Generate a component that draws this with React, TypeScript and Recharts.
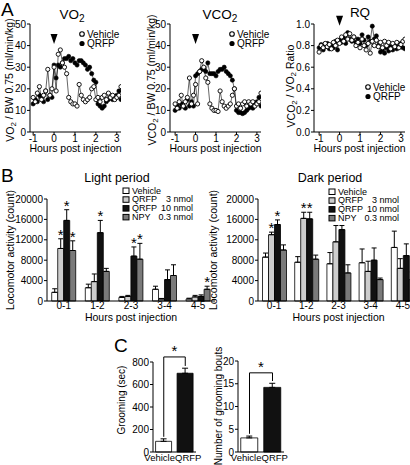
import React from "react";
import {
  LineChart,
  Line,
  BarChart,
  Bar,
  Cell,
  XAxis,
  YAxis,
  ErrorBar,
  LabelList,
  Label,
  ReferenceDot,
  ReferenceLine,
} from "recharts";

// ---- A: indirect calorimetry (hours post injection) ----
const hours = [
  -1.0, -0.9, -0.8, -0.7, -0.6, -0.5, -0.4, -0.3, -0.2, -0.1, 0.0, 0.1, 0.2, 0.3,
  0.4, 0.5, 0.6, 0.7, 0.8, 0.9, 1.0, 1.1, 1.2, 1.3, 1.4, 1.5, 1.6, 1.7, 1.8, 1.9,
  2.0, 2.1, 2.2, 2.3, 2.4, 2.5, 2.6, 2.7, 2.8, 2.9, 3.0, 3.1, 3.2,
];
const vo2Vehicle = [
  16, 14, 18, 21, 15, 17, 19, 29, 17, 20, 30, 19, 36, 38, 32, 30, 27, 16, 14, 13,
  13, 12, 22, 17, 15, 14, 15, 16, 20, 21, 15, 16, 14, 16, 17, 15, 18, 16, 17, 15,
  16, 17, 21,
];
const vo2Qrfp = [
  13, 15, 14, 17, 16, 14, 19, 15, 17, 16, 31, 25, 31, 30, 32, 34, 34, 35, 33, 34,
  32, 31, 33, 33, 32, 31, 29, 30, 27, 24, 23, 13, 12, 11, 12, 14, 15, 16, 15, 16,
  17, 19, 15,
];
const vco2Vehicle = [
  13, 11, 14, 17, 12, 14, 16, 25, 13, 17, 22, 13, 28, 33, 30, 25, 23, 13, 11, 10,
  10, 9.5, 19, 14, 12, 11, 12, 13, 17, 20, 12, 13, 11, 13, 14, 12, 14, 13, 14, 12,
  13, 14, 18,
];
const vco2Qrfp = [
  10, 12, 11, 13, 12, 11, 15, 12, 14, 12, 26, 27, 28, 29, 29, 28, 32, 27, 27, 27,
  26, 28, 29, 29, 30, 28, 27, 26, 24, 20, 10, 9, 9, 8.5, 9, 10, 11, 12, 11, 13,
  14, 16, 12,
];
const rqVehicle = [
  0.74, 0.8, 0.78, 0.82, 0.79, 0.81, 0.77, 0.83, 0.8, 0.85, 0.82, 0.88, 0.84, 0.9,
  0.86, 0.91, 0.85, 0.88, 0.8, 0.83, 0.78, 0.86, 0.8, 0.76, 0.82, 0.73, 0.84, 0.8,
  0.85, 0.79, 0.83, 0.78, 0.84, 0.8, 0.83, 0.77, 0.82, 0.79, 0.83, 0.78, 0.81,
  0.84, 0.86,
];
const rqQrfp = [
  0.78, 0.81, 0.76, 0.79, 0.82, 0.77, 0.8, 0.78, 0.84, 0.76, 0.85, 0.83, 0.87,
  0.82, 0.92, 0.86, 0.84, 0.88, 0.83, 0.86, 0.82, 0.9, 0.85, 0.8, 0.88, 0.84, 0.98,
  0.86, 0.89, 0.8, 0.74, 0.76, 0.73, 0.78, 0.75, 0.79, 0.76, 0.8, 0.77, 0.79,
  0.82, 0.78, 0.77,
];
const hourTicks = [-1, 0, 1, 2, 3];

// ---- B: locomotor activity ----
const periods = ["0-1", "1-2", "2-3", "3-4", "4-5"];
const activityTicks = [0, 4000, 8000, 12000, 16000, 20000];

const lightVehicle = [1700, 2600, 700, 2300, 400];
const lightVehicleErr = [700, 700, 200, 600, 150];
const lightQ3 = [10300, 3800, 900, 400, 800];
const lightQ3Err = [1900, 1500, 200, 100, 300];
const lightQ10 = [15800, 13400, 8800, 4200, 900];
const lightQ10Err = [2100, 2400, 1800, 1900, 300];
const lightNpy = [9900, 5800, 8200, 5000, 2300];
const lightNpyErr = [1900, 600, 3100, 2100, 600];
const lightSigQ3 = [true, false, false, false, false];
const lightSigQ10 = [true, true, true, false, false];
const lightSigNpy = [true, false, true, false, true];

const darkVehicle = [8600, 7600, 7300, 7500, 10500];
const darkVehicleErr = [800, 1100, 2200, 2700, 3200];
const darkQ3 = [13000, 16200, 11600, 5800, 6400];
const darkQ3Err = [500, 1200, 3200, 2000, 1900];
const darkQ10 = [15000, 16100, 14000, 8000, 8900];
const darkQ10Err = [900, 1300, 800, 2400, 2300];
const darkNpy = [10000, 8200, 5500, 4200, 4200];
const darkNpyErr = [1000, 800, 1600, 300, 1500];
const darkSigQ3 = [true, true, false, false, false];
const darkSigQ10 = [true, true, false, false, false];
const darkSigNpy = [false, false, false, false, false];

// ---- C: grooming ----
const groups = ["Vehicle", "QRFP"];
const groomSec = [95, 700];
const groomSecErr = [22, 45];
const groomBouts = [3.1, 14.2];
const groomBoutsErr = [0.4, 0.9];

const FONT = "'Liberation Sans', Arial, Helvetica, sans-serif";
const tickStyle = { fill: "#000", fontSize: 10, fontFamily: FONT };
const axisLine = { stroke: "#000", strokeWidth: 1 };
const barFills = ["#ffffff", "#111111"];

function seriesRows(a: number[], b: number[]) {
  return hours.map((t, i) => ({ t, veh: a[i], qrfp: b[i] }));
}

const Triangle = (p: any) => (
  <path
    d={`M${p.cx - 3.5},${p.cy - 5} L${p.cx + 3.5},${p.cy - 5} L${p.cx},${p.cy + 5} Z`}
    fill="#000"
  />
);

type TSProps = {
  rows: { t: number; veh: number; qrfp: number }[];
  width: number;
  yMax: number;
  yTicks: number[];
  yWidth: number;
  domain: [number, number];
  arrowY: number;
  fmt?: (v: number) => string;
};

function TimeSeries({ rows, width, yMax, yTicks, yWidth, domain, arrowY, fmt }: TSProps) {
  return (
    <LineChart
      width={width}
      height={160}
      data={rows}
      margin={{ top: 24, right: width - yWidth - 91, bottom: 0, left: 0 }}
    >
      <XAxis
        type="number"
        dataKey="t"
        domain={domain}
        ticks={hourTicks}
        allowDataOverflow
        tick={tickStyle}
        tickSize={3}
        tickMargin={0}
        axisLine={axisLine}
        tickLine={axisLine}
        height={28}
      >
        <Label
          value="Hours post injection"
          position="insideBottom"
          offset={8}
          fill="#000"
          fontSize={10.5}
          fontFamily={FONT}
        />
      </XAxis>
      <YAxis
        domain={[0, yMax]}
        ticks={yTicks}
        tick={tickStyle}
        tickSize={3}
        tickMargin={1}
        width={yWidth}
        axisLine={axisLine}
        tickLine={axisLine}
        tickFormatter={fmt}
      />
      <ReferenceDot x={0} y={arrowY} shape={Triangle} ifOverflow="visible" />
      <Line
        dataKey="qrfp"
        stroke="#000"
        strokeWidth={0.6}
        dot={{ r: 2.1, fill: "#000", stroke: "#000", strokeWidth: 0.6 }}
        isAnimationActive={false}
      />
      <Line
        dataKey="veh"
        stroke="#000"
        strokeWidth={0.6}
        dot={{ r: 2.1, fill: "#fff", stroke: "#000", strokeWidth: 0.9 }}
        isAnimationActive={false}
      />
    </LineChart>
  );
}

function star(values: number[], errs: number[]) {
  return (props: any) => {
    const { x, y, width, height, index, value } = props;
    if (!value) return null;
    const v = values[index];
    const ppu = v ? Math.abs(height) / v : 0;
    const top = y - errs[index] * ppu;
    return (
      <text
        x={x + width / 2}
        y={top + 1}
        textAnchor="middle"
        fontSize={15}
        fontFamily={FONT}
        fill="#000"
      >
        *
      </text>
    );
  };
}

type ActProps = {
  veh: number[];
  vehE: number[];
  q3: number[];
  q3E: number[];
  q10: number[];
  q10E: number[];
  npy: number[];
  npyE: number[];
  sigQ3: boolean[];
  sigQ10: boolean[];
  sigNpy: boolean[];
  width: number;
  right: number;
};

function Activity(p: ActProps) {
  const rows = periods.map((name, i) => ({
    name,
    veh: p.veh[i],
    vehE: [0, p.vehE[i]],
    q3: p.q3[i],
    q3E: [0, p.q3E[i]],
    q10: p.q10[i],
    q10E: [0, p.q10E[i]],
    npy: p.npy[i],
    npyE: [0, p.npyE[i]],
    s3: p.sigQ3[i],
    s10: p.sigQ10[i],
    sN: p.sigNpy[i],
  }));
  const eb = (k: string) => (
    <ErrorBar dataKey={k} width={2.5} stroke="#000" strokeWidth={1} direction="y" />
  );
  return (
    <BarChart
      width={p.width}
      height={165}
      data={rows}
      margin={{ top: 39, right: p.right, bottom: 0, left: 0 }}
      barCategoryGap="14%"
      barGap={0}
    >
      <XAxis
        dataKey="name"
        tick={tickStyle}
        tickLine={false}
        tickSize={0}
        tickMargin={1}
        axisLine={axisLine}
        height={24}
        interval={0}
      >
        <Label
          value="Hours post injection"
          position="insideBottom"
          offset={4}
          fill="#000"
          fontSize={10.5}
          fontFamily={FONT}
        />
      </XAxis>
      <YAxis
        domain={[0, 20000]}
        ticks={activityTicks}
        tick={tickStyle}
        tickSize={3}
        tickMargin={1}
        width={47}
        axisLine={axisLine}
        tickLine={axisLine}
      />
      <Bar dataKey="veh" fill="#fff" stroke="#000" strokeWidth={0.8} isAnimationActive={false}>
        {eb("vehE")}
      </Bar>
      <Bar dataKey="q3" fill="#cdcdcd" stroke="#000" strokeWidth={0.8} isAnimationActive={false}>
        {eb("q3E")}
        <LabelList dataKey="s3" content={star(p.q3, p.q3E)} />
      </Bar>
      <Bar dataKey="q10" fill="#111" stroke="#000" strokeWidth={0.8} isAnimationActive={false}>
        {eb("q10E")}
        <LabelList dataKey="s10" content={star(p.q10, p.q10E)} />
      </Bar>
      <Bar dataKey="npy" fill="#7a7a7a" stroke="#000" strokeWidth={0.8} isAnimationActive={false}>
        {eb("npyE")}
        <LabelList dataKey="sN" content={star(p.npy, p.npyE)} />
      </Bar>
    </BarChart>
  );
}

type GroomProps = {
  values: number[];
  errs: number[];
  yMax: number;
  ticks: number[];
  width: number;
  yWidth: number;
  top: number;
  right: number;
  bracketTop: number;
  legLeft: number;
  legRight: number;
};

function Groom(p: GroomProps) {
  const rows = groups.map((name, i) => ({ name, v: p.values[i], e: [0, p.errs[i]] }));
  const seg = { stroke: "#000", strokeWidth: 1, ifOverflow: "visible" as const };
  const halfBand = (p.width - p.yWidth - p.right) / 4;
  const GroupTick = (t: any) => {
    const first = t.index === 0;
    return (
      <text
        x={t.x + (first ? halfBand + 0.5 : -halfBand + 0.5)}
        y={t.y}
        dy="0.71em"
        textAnchor={first ? "end" : "start"}
        fontSize={9.5}
        fontFamily={FONT}
        fill="#000"
      >
        {t.payload.value}
      </text>
    );
  };
  return (
    <BarChart
      width={p.width}
      height={135}
      data={rows}
      margin={{ top: p.top, right: p.right, bottom: 0, left: 0 }}
      barCategoryGap="12%"
    >
      <XAxis
        dataKey="name"
        tick={GroupTick}
        tickLine={false}
        tickSize={0}
        tickMargin={2}
        axisLine={axisLine}
        height={13}
        interval={0}
      />
      <YAxis
        domain={[0, p.yMax]}
        ticks={p.ticks}
        tick={tickStyle}
        tickSize={3}
        tickMargin={1}
        width={p.yWidth}
        axisLine={axisLine}
        tickLine={axisLine}
      />
      <Bar dataKey="v" stroke="#000" strokeWidth={0.8} isAnimationActive={false}>
        {rows.map((r, i) => (
          <Cell key={r.name} fill={barFills[i]} />
        ))}
        <ErrorBar dataKey="e" width={3} stroke="#000" strokeWidth={1} direction="y" />
      </Bar>
      <ReferenceLine
        {...seg}
        segment={[
          { x: "Vehicle", y: p.legLeft },
          { x: "Vehicle", y: p.bracketTop },
        ]}
      />
      <ReferenceLine
        {...seg}
        segment={[
          { x: "Vehicle", y: p.bracketTop },
          { x: "QRFP", y: p.bracketTop },
        ]}
        label={{ value: "*", position: "top", fill: "#000", fontSize: 15, fontFamily: FONT, offset: 1 }}
      />
      <ReferenceLine
        {...seg}
        segment={[
          { x: "QRFP", y: p.bracketTop },
          { x: "QRFP", y: p.legRight },
        ]}
      />
    </BarChart>
  );
}

const Sub = ({ children }: { children: string }) => (
  <tspan fontSize="0.75em" dy="0.25em">
    {children}
  </tspan>
);

function LegendCircles({ x, y }: { x: number; y: number }) {
  return (
    <g fontSize={10} fontFamily={FONT} fill="#000">
      <circle cx={x} cy={y} r={2.3} fill="#fff" stroke="#000" strokeWidth={1.1} />
      <text x={x + 5} y={y + 3.5}>Vehicle</text>
      <circle cx={x} cy={y + 9.5} r={2.6} fill="#000" />
      <text x={x + 5} y={y + 13}>QRFP</text>
    </g>
  );
}

const legendFills = ["#ffffff", "#cdcdcd", "#111111", "#7a7a7a"];
const legendNames = ["Vehicle", "QRFP", "QRFP", "NPY"];
const legendDoses = ["", "3 nmol", "10 nmol", "0.3 nmol"];

function LegendBars({ x, y }: { x: number; y: number }) {
  return (
    <g fontSize={9} fontFamily={FONT} fill="#000">
      {legendNames.map((n, i) => (
        <g key={i}>
          <rect x={x} y={y + i * 8.8 - 3} width={6} height={5.5} fill={legendFills[i]} stroke="#000" strokeWidth={1} />
          <text x={x + 9} y={y + i * 8.8 + 2.5}>{n}</text>
          <text x={x + 70} y={y + i * 8.8 + 2.5} textAnchor="end">{legendDoses[i]}</text>
        </g>
      ))}
    </g>
  );
}

function VLabel({ x, y, size = 10.5, children }: { x: number; y: number; size?: number; children: React.ReactNode }) {
  return (
    <text
      transform={`translate(${x},${y}) rotate(-90)`}
      textAnchor="middle"
      fontSize={size}
      fontFamily={FONT}
      fill="#000"
    >
      {children}
    </text>
  );
}

export default function App() {
  const place = (left: number, top: number): React.CSSProperties => ({
    position: "absolute",
    left,
    top,
  });
  return (
    <div
      style={{
        position: "absolute",
        left: 0,
        top: 0,
        width: 410,
        height: 465,
        overflow: "hidden",
        background: "#fff",
        fontFamily: FONT,
      }}
    >
      <div style={place(0, 0)}>
        <TimeSeries
          rows={seriesRows(vo2Vehicle, vo2Qrfp)}
          width={125}
          yMax={50}
          yTicks={[0, 10, 20, 30, 40, 50]}
          yWidth={30}
          domain={[-1.15, 3.2]}
          arrowY={43}
        />
      </div>
      <div style={place(140, 0)}>
        <TimeSeries
          rows={seriesRows(vco2Vehicle, vco2Qrfp)}
          width={125}
          yMax={50}
          yTicks={[0, 10, 20, 30, 40, 50]}
          yWidth={30}
          domain={[-1.25, 3.2]}
          arrowY={43}
        />
      </div>
      <div style={place(280, 0)}>
        <TimeSeries
          rows={seriesRows(rqVehicle, rqQrfp)}
          width={130}
          yMax={1}
          yTicks={[0, 0.2, 0.4, 0.6, 0.8, 1.0]}
          yWidth={34}
          domain={[-1.25, 3.2]}
          arrowY={1.03}
          fmt={(v) => v.toFixed(1)}
        />
      </div>
      <div style={place(0, 160)}>
        <Activity
          veh={lightVehicle}
          vehE={lightVehicleErr}
          q3={lightQ3}
          q3E={lightQ3Err}
          q10={lightQ10}
          q10E={lightQ10Err}
          npy={lightNpy}
          npyE={lightNpyErr}
          sigQ3={lightSigQ3}
          sigQ10={lightSigQ10}
          sigNpy={lightSigNpy}
          width={220}
          right={5}
        />
      </div>
      <div style={place(211, 160)}>
        <Activity
          veh={darkVehicle}
          vehE={darkVehicleErr}
          q3={darkQ3}
          q3E={darkQ3Err}
          q10={darkQ10}
          q10E={darkQ10Err}
          npy={darkNpy}
          npyE={darkNpyErr}
          sigQ3={darkSigQ3}
          sigQ10={darkSigQ10}
          sigNpy={darkSigNpy}
          width={210}
          right={2}
        />
      </div>
      <div style={place(115, 330)}>
        <Groom
          values={groomSec}
          errs={groomSecErr}
          yMax={800}
          ticks={[0, 200, 400, 600, 800]}
          width={95}
          yWidth={38}
          top={32}
          right={14}
          bracketTop={845}
          legLeft={135}
          legRight={765}
        />
      </div>
      <div style={place(205, 330)}>
        <Groom
          values={groomBouts}
          errs={groomBoutsErr}
          yMax={20}
          ticks={[0, 5, 10, 15, 20]}
          width={84}
          yWidth={33}
          top={31}
          right={5}
          bracketTop={17.4}
          legLeft={4}
          legRight={15.6}
        />
      </div>

      <svg
        width={410}
        height={465}
        style={{ position: "absolute", left: 0, top: 0, pointerEvents: "none" }}
      >
        <g fontFamily={FONT} fill="#000">
          <text x={1} y={16} fontSize={19}>A</text>
          <text x={1} y={182} fontSize={19}>B</text>
          <text x={114} y={352} fontSize={19}>C</text>

          <text x={72} y={19} fontSize={13.5} textAnchor="middle">
            VO<Sub>2</Sub>
          </text>
          <text x={220} y={19} fontSize={13.5} textAnchor="middle">
            VCO<Sub>2</Sub>
          </text>
          <text x={360} y={17} fontSize={13.5} textAnchor="middle">RQ</text>
          <text x={117} y={182} fontSize={12.5} textAnchor="middle">Light period</text>
          <text x={330} y={182} fontSize={12.5} textAnchor="middle">Dark period</text>
        </g>

        <VLabel x={14} y={80}>
          VO<Sub>2</Sub>
          <tspan dy="-0.25em"> / BW 0.75 (ml/min/kg)</tspan>
        </VLabel>
        <VLabel x={156} y={80}>
          VCO<Sub>2</Sub>
          <tspan dy="-0.25em"> / BW 0.75 (ml/min/kg)</tspan>
        </VLabel>
        <VLabel x={295} y={86}>
          VCO<Sub>2</Sub>
          <tspan dy="-0.25em"> / VO</tspan>
          <Sub>2</Sub>
          <tspan dy="-0.25em"> Ratio</tspan>
        </VLabel>
        <VLabel x={14} y={250}>Locomotor activity (count)</VLabel>
        <VLabel x={217} y={250}>Locomotor activity (count)</VLabel>
        <VLabel x={125} y={400} size={10}>Grooming (sec)</VLabel>
        <VLabel x={222} y={406} size={10}>Number of grooming bouts</VLabel>

        <LegendCircles x={82} y={34} />
        <LegendCircles x={232} y={34} />
        <LegendCircles x={368} y={87} />
        <LegendBars x={123} y={191} />
        <LegendBars x={329} y={192} />
      </svg>
    </div>
  );
}
